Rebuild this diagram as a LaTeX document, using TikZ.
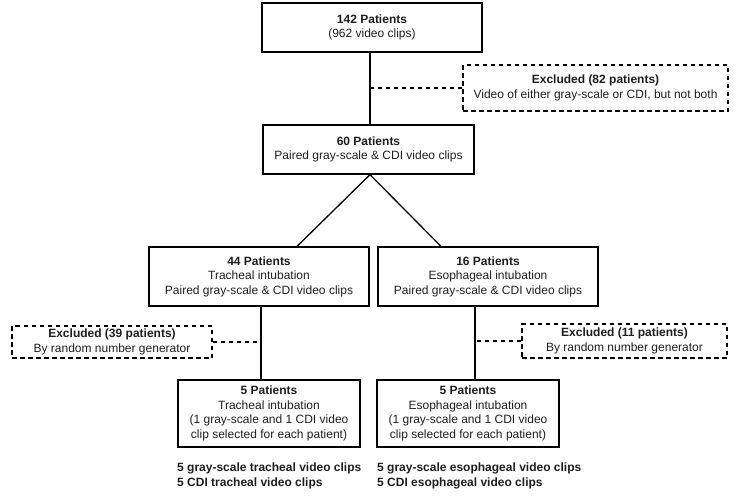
\documentclass[tikz,border=0pt]{standalone}
\usepackage{fontspec}
\setmainfont{Liberation Sans}
\definecolor{txt}{HTML}{1E1E1E}
\begin{document}
\begin{tikzpicture}[x=1pt,y=-1pt,
  solidbox/.style={draw=black,line width=1.3pt,rectangle,inner sep=0pt,align=center,text=txt,
    font=\fontsize{12}{14.5}\selectfont},
  dashbox/.style={draw=black,line width=1.4pt,dash pattern=on 4.5pt off 3.5pt,rectangle,inner sep=0pt,align=center,text=txt,
    font=\fontsize{12}{14.5}\selectfont},
  solidline/.style={draw=black,line width=1.3pt},
  dashline/.style={draw=black,line width=1.4pt,dash pattern=on 4.5pt off 3.5pt},
  outtext/.style={anchor=west,inner sep=0pt,align=left,text=txt,font=\bfseries\fontsize{12}{14.5}\selectfont}
]
\useasboundingbox (0,0) rectangle (752,501);

\node[solidbox,minimum width=220pt,minimum height=49pt] (top) at (372,27.5)
  {\textbf{142 Patients}\\(962 video clips)};
\node[dashbox,minimum width=265pt,minimum height=46pt] (ex82) at (595.5,88)
  {\textbf{Excluded (82 patients)}\\Video of either gray-scale or CDI, but not both};
\node[solidbox,minimum width=211pt,minimum height=49pt] (mid) at (368.5,149.5)
  {\textbf{60 Patients}\\Paired gray-scale \& CDI video clips};
\node[solidbox,minimum width=220pt,minimum height=59pt] (t44) at (259,276.5)
  {\textbf{44 Patients}\\Tracheal intubation\\Paired gray-scale \& CDI video clips};
\node[solidbox,minimum width=220pt,minimum height=59pt] (t16) at (488,276.5)
  {\textbf{16 Patients}\\Esophageal intubation\\Paired gray-scale \& CDI video clips};
\node[dashbox,minimum width=200pt,minimum height=32pt] (ex39) at (112,342)
  {\textbf{Excluded (39 patients)}\\By random number generator};
\node[dashbox,minimum width=205pt,minimum height=34pt] (ex11) at (624.5,341)
  {\textbf{Excluded (11 patients)}\\By random number generator};
\node[solidbox,minimum width=182pt,minimum height=67pt] (b1) at (269,413.5)
  {\textbf{5 Patients}\\Tracheal intubation\\(1 gray-scale and 1 CDI video\\clip selected for each patient)};
\node[solidbox,minimum width=182pt,minimum height=67pt] (b2) at (468,413.5)
  {\textbf{5 Patients}\\Esophageal intubation\\(1 gray-scale and 1 CDI video\\clip selected for each patient)};
\node[outtext] (o1) at (177,476)
  {5 gray-scale tracheal video clips\\5 CDI tracheal video clips};
\node[outtext] (o2) at (377,476)
  {5 gray-scale esophageal video clips\\5 CDI esophageal video clips};

\coordinate (v1) at (370,0);
\coordinate (v2) at (261,0);
\coordinate (v3) at (475,0);
\coordinate (d1) at (297,0);
\coordinate (d2) at (441,0);

\draw[solidline] (top.south -| v1) -- (mid.north -| v1);
\draw[dashline] (ex82.west) -- (ex82.west -| v1);
\draw[solidline] (mid.south -| v1) -- (t44.north -| d1);
\draw[solidline] (mid.south -| v1) -- (t16.north -| d2);
\draw[solidline] (t44.south -| v2) -- (b1.north -| v2);
\draw[solidline] (t16.south -| v3) -- (b2.north -| v3);
\draw[dashline] (ex39.east) -- (ex39.east -| v2);
\draw[dashline] (ex11.west) -- (ex11.west -| v3);
\end{tikzpicture}
\end{document}
